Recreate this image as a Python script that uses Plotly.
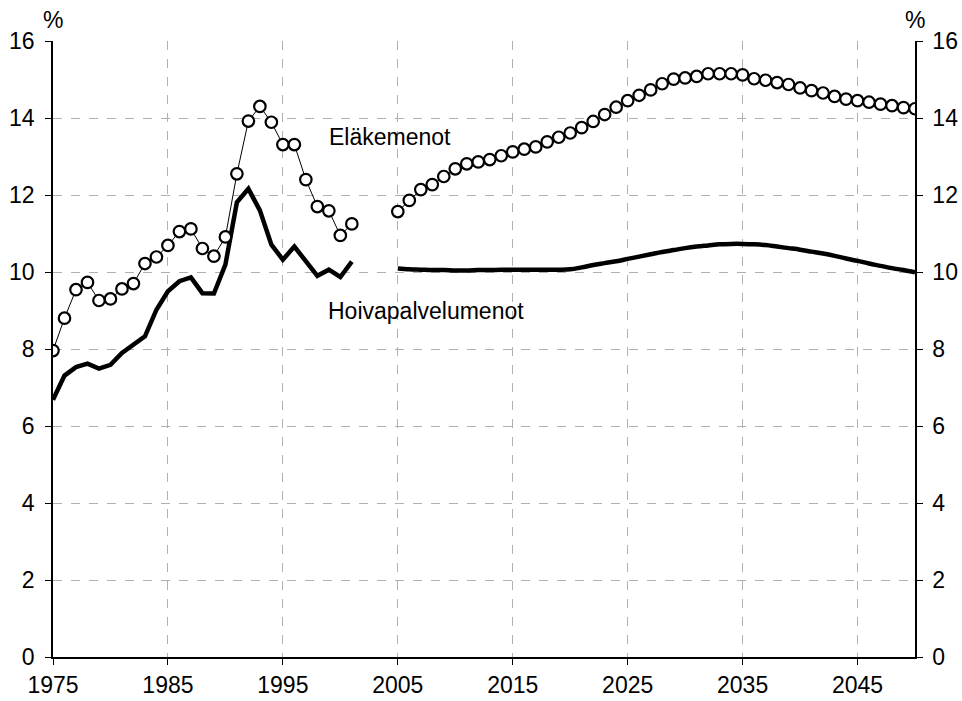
import plotly.graph_objects as go

# Historical data 1975-2001
hist_years = list(range(1975, 2002))
elake_hist = [7.96, 8.80, 9.54, 9.73, 9.26, 9.30, 9.56, 9.70, 10.22, 10.39,
              10.69, 11.05, 11.12, 10.61, 10.41, 10.91, 12.55, 13.92, 14.30, 13.89,
              13.31, 13.31, 12.40, 11.70, 11.59, 10.95, 11.25]
hoiva_hist = [6.68, 7.31, 7.53, 7.62, 7.49, 7.59, 7.90, 8.11, 8.33, 9.02,
              9.50, 9.76, 9.86, 9.45, 9.44, 10.19, 11.81, 12.16, 11.60, 10.71,
              10.32, 10.66, 10.28, 9.90, 10.06, 9.87, 10.27]

# Projection 2005-2050
proj_years = list(range(2005, 2051))
elake_proj = [11.57, 11.86, 12.14, 12.27, 12.48, 12.68, 12.81, 12.86, 12.92, 13.02,
              13.12, 13.19, 13.25, 13.38, 13.50, 13.61, 13.75, 13.91, 14.09, 14.28,
              14.45, 14.59, 14.73, 14.89, 15.01, 15.04, 15.08, 15.15, 15.15, 15.15,
              15.12, 15.02, 14.98, 14.92, 14.87, 14.78, 14.71, 14.65, 14.56, 14.49,
              14.45, 14.41, 14.36, 14.32, 14.27, 14.24]
hoiva_proj = [10.09, 10.07, 10.06, 10.05, 10.05, 10.04, 10.04, 10.05, 10.05, 10.06,
              10.06, 10.06, 10.06, 10.06, 10.06, 10.07, 10.12, 10.18, 10.23, 10.28,
              10.34, 10.40, 10.46, 10.52, 10.57, 10.62, 10.66, 10.69, 10.72, 10.73,
              10.73, 10.72, 10.70, 10.66, 10.62, 10.58, 10.53, 10.48, 10.42, 10.35,
              10.29, 10.22, 10.16, 10.10, 10.05, 9.99]

x_ticks = [1975, 1985, 1995, 2005, 2015, 2025, 2035, 2045]
y_ticks = [0, 2, 4, 6, 8, 10, 12, 14, 16]

FONT = "Liberation Sans, Arial, sans-serif"
FS = 23
marker_style = dict(symbol="circle", size=11.5, color="white",
                    line=dict(color="black", width=2.2))

fig = go.Figure()
fig.add_trace(go.Scatter(x=hist_years, y=hoiva_hist, mode="lines",
                         line=dict(color="black", width=4.5)))
fig.add_trace(go.Scatter(x=proj_years, y=hoiva_proj, mode="lines",
                         line=dict(color="black", width=4.5, shape="spline")))
fig.add_trace(go.Scatter(x=hist_years, y=elake_hist, mode="lines+markers",
                         line=dict(color="black", width=1), marker=marker_style))
fig.add_trace(go.Scatter(x=proj_years, y=elake_proj, mode="lines+markers",
                         line=dict(color="black", width=1), marker=marker_style))
# invisible trace so the right axis is drawn
fig.add_trace(go.Scatter(x=[1975], y=[0], yaxis="y2", mode="markers",
                         marker=dict(opacity=0), hoverinfo="skip"))

grid = dict(showgrid=True, gridcolor="#b0b0b0", griddash="dash", gridwidth=1)

fig.update_layout(
    width=962, height=701,
    margin=dict(l=53, r=46.5, t=41, b=44),
    paper_bgcolor="white", plot_bgcolor="white",
    showlegend=False,
    font=dict(family=FONT, size=FS, color="black"),
    xaxis=dict(range=[1975, 2050], tickvals=x_ticks, ticks="outside", ticklen=6,
               tickcolor="black", showline=True, linecolor="black", linewidth=2,
               zeroline=False, automargin=False, tickfont=dict(size=FS), **grid),
    yaxis=dict(range=[0, 16], tickvals=y_ticks, ticks="outside", ticklen=6,
               tickcolor="black", showline=True, linecolor="black", linewidth=1.5,
               zeroline=False, automargin=False, tickfont=dict(size=FS),
               ticklabelstandoff=6, **grid),
    yaxis2=dict(range=[0, 16], tickvals=y_ticks, ticks="outside", ticklen=6,
                tickcolor="black", showline=True, linecolor="black", linewidth=1.5,
                overlaying="y", side="right", showgrid=False, zeroline=False,
                automargin=False, tickfont=dict(size=FS), ticklabelstandoff=5),
    annotations=[
        dict(text="Eläkemenot", x=1998.8, y=13.5, xanchor="left", yanchor="middle",
             showarrow=False, font=dict(size=FS)),
        dict(text="Hoivapalvelumenot", x=1998.75, y=9.0, xanchor="left", yanchor="middle",
             showarrow=False, font=dict(size=FS)),
        dict(text="%", x=0, y=1, xref="paper", yref="paper", xanchor="center",
             yanchor="bottom", yshift=6, showarrow=False, font=dict(size=FS)),
        dict(text="%", x=1, y=1, xref="paper", yref="paper", xanchor="center",
             yanchor="bottom", yshift=6, showarrow=False, font=dict(size=FS)),
    ],
)

# drop the default page margin so the figure fills the window exactly
fig.write_html("out.html",
               config={"displayModeBar": False},
               post_script="document.body.style.margin='0';"
                           "document.body.style.overflow='hidden';")
